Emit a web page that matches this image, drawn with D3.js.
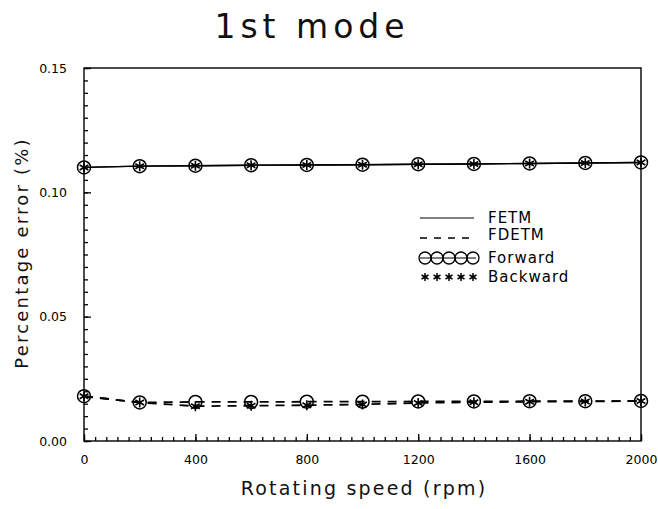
<!DOCTYPE html>
<html>
<head>
<meta charset="utf-8">
<script src="https://cdn.jsdelivr.net/npm/d3@7"></script>
<style>
  html, body { margin: 0; padding: 0; background: #fff; }
  svg { display: block; font-family: "DejaVu Sans", "Liberation Sans", sans-serif; }
</style>
</head>
<body>
<div id="chart"></div>
<script>
// rotating speed (rpm)
const speeds = [0, 200, 400, 600, 800, 1000, 1200, 1400, 1600, 1800, 2000];

// percentage error (%)
const fetmForward  = [0.1100, 0.1105, 0.1107, 0.1109, 0.1110, 0.1111, 0.1113, 0.1114, 0.1116, 0.1118, 0.1120];
const fetmBackward = [0.1100, 0.1105, 0.1107, 0.1109, 0.1110, 0.1111, 0.1113, 0.1114, 0.1116, 0.1118, 0.1120];
const fdetmForward  = [0.0180, 0.0155, 0.0157, 0.0157, 0.0158, 0.0158, 0.0159, 0.0159, 0.0160, 0.0160, 0.0161];
const fdetmBackward = [0.0180, 0.0155, 0.0140, 0.0142, 0.0144, 0.0147, 0.0153, 0.0156, 0.0158, 0.0159, 0.0161];

const xTicks = [0, 400, 800, 1200, 1600, 2000];
const yTicks = [0.00, 0.05, 0.10, 0.15];

const legendItems = ["FETM", "FDETM", "Forward", "Backward"];

const width = 658, height = 509;
const margin = { top: 68, right: 17, bottom: 68, left: 84 };

const svg = d3.select("#chart").append("svg")
  .attr("width", width)
  .attr("height", height);

const x = d3.scaleLinear().domain([0, 2000]).range([margin.left, width - margin.right]);
const y = d3.scaleLinear().domain([0, 0.15]).range([height - margin.bottom, margin.top]);

// title
svg.append("text")
  .attr("x", 312)
  .attr("y", 38)
  .attr("text-anchor", "middle")
  .attr("font-size", 33)
  .attr("letter-spacing", 5)
  .attr("fill", "#111")
  .text("1st mode");

// frame
svg.append("rect")
  .attr("x", x(0))
  .attr("y", y(0.15))
  .attr("width", x(2000) - x(0))
  .attr("height", y(0) - y(0.15))
  .attr("fill", "none")
  .attr("stroke", "#000")
  .attr("stroke-width", 1.4);

// x axis: minor ticks every 40 rpm, pointing inward
svg.append("g")
  .attr("transform", `translate(0,${y(0)})`)
  .call(d3.axisBottom(x).tickValues(d3.range(0, 2001, 40)).tickSize(-4).tickFormat(""))
  .call(g => g.select(".domain").remove());

svg.append("g")
  .attr("class", "axis")
  .attr("transform", `translate(0,${y(0)})`)
  .call(d3.axisBottom(x).tickValues(xTicks).tickSize(-7).tickPadding(14).tickFormat(d3.format("d")))
  .call(g => g.select(".domain").remove());

// y axis: minor ticks every 0.005
svg.append("g")
  .attr("transform", `translate(${x(0)},0)`)
  .call(d3.axisLeft(y).tickValues(d3.range(0, 0.1501, 0.005)).tickSize(-4).tickFormat(""))
  .call(g => g.select(".domain").remove());

svg.append("g")
  .attr("class", "axis")
  .attr("transform", `translate(${x(0)},0)`)
  .call(d3.axisLeft(y).tickValues(yTicks).tickSize(-7).tickPadding(17).tickFormat(d3.format(".2f")))
  .call(g => g.select(".domain").remove());

svg.selectAll(".axis text")
  .attr("font-size", 12.5)
  .attr("font-family", "'DejaVu Sans', sans-serif")
  .attr("fill", "#000");
svg.selectAll("line").attr("stroke", "#000").attr("stroke-width", 1.3);

// axis labels
svg.append("text")
  .attr("x", 364)
  .attr("y", 495)
  .attr("text-anchor", "middle")
  .attr("font-size", 19)
  .attr("letter-spacing", 2.2)
  .attr("fill", "#111")
  .text("Rotating speed (rpm)");

svg.append("text")
  .attr("transform", `translate(28,${253}) rotate(-90)`)
  .attr("text-anchor", "middle")
  .attr("font-size", 18)
  .attr("letter-spacing", 2.2)
  .attr("fill", "#111")
  .text("Percentage error (%)");

// lines
const line = d3.line()
  .x((d, i) => x(speeds[i]))
  .y(d => y(d));

const series = [
  { values: fetmForward, dash: null },
  { values: fetmBackward, dash: null },
  { values: fdetmForward, dash: "9,7" },
  { values: fdetmBackward, dash: "9,7" }
];

svg.selectAll(".series")
  .data(series)
  .enter()
  .append("path")
  .attr("class", "series")
  .attr("d", d => line(d.values))
  .attr("fill", "none")
  .attr("stroke", "#000")
  .attr("stroke-width", d => d.dash ? 1.8 : 1.3)
  .attr("stroke-dasharray", d => d.dash);

// markers
const star = d3.symbol().type(d3.symbolAsterisk).size(70);

function drawCircles(values) {
  svg.append("g")
    .selectAll("circle")
    .data(values)
    .enter()
    .append("circle")
    .attr("cx", (d, i) => x(speeds[i]))
    .attr("cy", d => y(d))
    .attr("r", 6.5)
    .attr("fill", "none")
    .attr("stroke", "#000")
    .attr("stroke-width", 1.5);
}

function drawStars(values) {
  svg.append("g")
    .selectAll("path")
    .data(values)
    .enter()
    .append("path")
    .attr("transform", (d, i) => `translate(${x(speeds[i])},${y(d)})`)
    .attr("d", star)
    .attr("fill", "none")
    .attr("stroke", "#000")
    .attr("stroke-width", 1.6);
}

drawCircles(fetmForward);
drawStars(fetmBackward);
drawCircles(fdetmForward);
drawStars(fdetmBackward);

// legend
const legend = svg.append("g");
const rowY = [218, 235, 258, 277];
const sx = 420, ex = 474, tx = 488;

legend.selectAll("text")
  .data(legendItems)
  .enter()
  .append("text")
  .attr("x", tx)
  .attr("y", (d, i) => rowY[i])
  .attr("dy", "0.35em")
  .attr("font-size", 15)
  .attr("letter-spacing", 1)
  .attr("fill", "#000")
  .text(d => d);

legend.append("line")
  .attr("x1", sx).attr("x2", ex)
  .attr("y1", rowY[0]).attr("y2", rowY[0])
  .attr("stroke", "#000").attr("stroke-width", 1.2);

legend.append("line")
  .attr("x1", sx).attr("x2", ex)
  .attr("y1", rowY[1] + 3).attr("y2", rowY[1] + 3)
  .attr("stroke", "#000").attr("stroke-width", 1.3)
  .attr("stroke-dasharray", "7,7");

const legendMarks = d3.range(5).map(i => sx + 5 + i * 12);

legend.append("line")
  .attr("x1", sx).attr("x2", ex + 2)
  .attr("y1", rowY[2]).attr("y2", rowY[2])
  .attr("stroke", "#000").attr("stroke-width", 1.2);

legend.selectAll(".lc")
  .data(legendMarks)
  .enter()
  .append("circle")
  .attr("class", "lc")
  .attr("cx", d => d)
  .attr("cy", rowY[2])
  .attr("r", 6)
  .attr("fill", "none")
  .attr("stroke", "#000")
  .attr("stroke-width", 1.3);

legend.selectAll(".ls")
  .data(legendMarks)
  .enter()
  .append("path")
  .attr("class", "ls")
  .attr("transform", d => `translate(${d},${rowY[3]})`)
  .attr("d", d3.symbol().type(d3.symbolAsterisk).size(45))
  .attr("fill", "none")
  .attr("stroke", "#000")
  .attr("stroke-width", 1.5);
</script>
</body>
</html>
